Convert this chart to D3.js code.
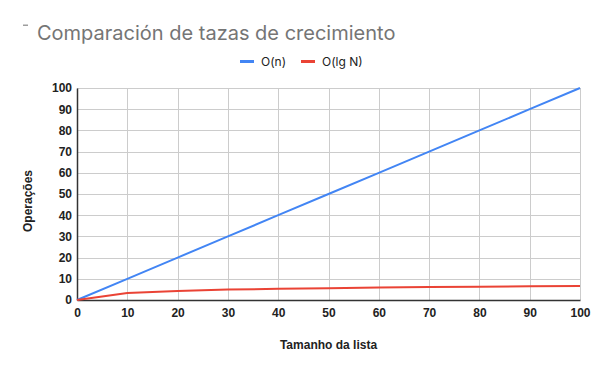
<!DOCTYPE html>
<html>
<head>
    <title>Comparación de tazas de crecimiento</title>
    <style>
        body { margin: 0; background: #fff; }
        svg { display: block; }
    </style>
    <script src="https://d3js.org/d3.v7.min.js"></script>
</head>
<body>
    <div id="chart"></div>

    <script>
// tamanho da lista
var sizes = [0, 10, 20, 30, 40, 50, 60, 70, 80, 90, 100];
// O(n)
var linearOps = [0, 10, 20, 30, 40, 50, 60, 70, 80, 90, 100];
// O(lg N)
var logOps = [0, 3.3, 4.3, 4.9, 5.3, 5.6, 5.9, 6.1, 6.3, 6.5, 6.6];
var xTicks = [0, 10, 20, 30, 40, 50, 60, 70, 80, 90, 100];
var yTicks = [0, 10, 20, 30, 40, 50, 60, 70, 80, 90, 100];

var seriesNames = ['O(n)', 'O(lg N)'];
var seriesColors = ['#4285f4', '#ea4335'];

var width = 600, height = 371;
var margin = { top: 88, right: 20, bottom: 71, left: 77 };
var plotW = width - margin.left - margin.right;
var plotH = height - margin.top - margin.bottom;

var svg = d3.select('#chart').append('svg')
    .attr('width', width)
    .attr('height', height);

// title is cut off at the top in the original
svg.append('clipPath').attr('id', 'titleClip')
    .append('rect').attr('x', 0).attr('y', 24.5).attr('width', width).attr('height', 40);

var titleG = svg.append('g').attr('clip-path', 'url(#titleClip)');
titleG.append('text')
    .attr('x', 37)
    .attr('y', 40)
    .attr('font-family', 'Inter, sans-serif')
    .attr('font-size', 20)
    .attr('fill', '#757575')
    .text('Comparación de tazas de crecimiento');
titleG.append('rect')
    .attr('x', 23).attr('y', 24).attr('width', 5).attr('height', 2)
    .attr('fill', '#9e9e9e');

// legend
var legendItems = [
    { name: seriesNames[0], color: seriesColors[0], x: 240 },
    { name: seriesNames[1], color: seriesColors[1], x: 301 }
];
var legend = svg.append('g');
legend.selectAll('rect')
    .data(legendItems)
    .enter()
    .append('rect')
    .attr('x', function(d) { return d.x; })
    .attr('y', 60)
    .attr('width', 14)
    .attr('height', 3)
    .attr('fill', function(d) { return d.color; });
legend.selectAll('text')
    .data(legendItems)
    .enter()
    .append('text')
    .attr('x', function(d) { return d.x + 21; })
    .attr('y', 65.5)
    .attr('font-family', 'Inter, sans-serif')
    .attr('font-size', 12)
    .attr('fill', '#222')
    .text(function(d) { return d.name; });

var g = svg.append('g')
    .attr('transform', 'translate(' + margin.left + ',' + margin.top + ')');

var xScale = d3.scaleLinear().domain([0, 100]).range([0, plotW]);
var yScale = d3.scaleLinear().domain([0, 100]).range([plotH, 0]);

// gridlines
g.append('g')
    .selectAll('line')
    .data(yTicks)
    .enter()
    .append('line')
    .attr('x1', 0).attr('x2', plotW)
    .attr('y1', function(d) { return Math.round(yScale(d)) + 0.5; })
    .attr('y2', function(d) { return Math.round(yScale(d)) + 0.5; })
    .attr('stroke', '#cccccc');
g.append('g')
    .selectAll('line')
    .data(xTicks)
    .enter()
    .append('line')
    .attr('y1', 0).attr('y2', plotH)
    .attr('x1', function(d) { return Math.round(xScale(d)) + 0.5; })
    .attr('x2', function(d) { return Math.round(xScale(d)) + 0.5; })
    .attr('stroke', '#cccccc');

var xAxis = d3.axisBottom(xScale).tickValues(xTicks).tickSize(0).tickPadding(8);
var yAxis = d3.axisLeft(yScale).tickValues(yTicks).tickSize(0).tickPadding(5);

var xg = g.append('g')
    .attr('transform', 'translate(0,' + plotH + ')')
    .call(xAxis);
var yg = g.append('g').call(yAxis);

[xg, yg].forEach(function(a) {
    a.select('.domain').attr('stroke', '#333').attr('stroke-width', 1.5);
    a.selectAll('text')
        .attr('font-family', 'Liberation Sans, Arial, sans-serif')
        .attr('font-size', 12)
        .attr('font-weight', 'bold')
        .attr('fill', '#222');
});

// series lines
var series = [
    { values: linearOps, color: seriesColors[0] },
    { values: logOps, color: seriesColors[1] }
];
var line = d3.line()
    .x(function(d, i) { return xScale(sizes[i]); })
    .y(function(d) { return yScale(d); });

g.selectAll('.series')
    .data(series)
    .enter()
    .append('path')
    .attr('class', 'series')
    .attr('d', function(d) { return line(d.values); })
    .attr('fill', 'none')
    .attr('stroke', function(d) { return d.color; })
    .attr('stroke-width', 2);

// axis titles
svg.append('text')
    .attr('x', margin.left + plotW / 2)
    .attr('y', 349)
    .attr('text-anchor', 'middle')
    .attr('font-family', 'Liberation Sans, Arial, sans-serif')
    .attr('font-size', 12)
    .attr('font-weight', 'bold')
    .attr('fill', '#222')
    .text('Tamanho da lista');

svg.append('text')
    .attr('transform', 'rotate(-90)')
    .attr('x', -201)
    .attr('y', 32)
    .attr('text-anchor', 'middle')
    .attr('font-family', 'Liberation Sans, Arial, sans-serif')
    .attr('font-size', 12)
    .attr('font-weight', 'bold')
    .attr('fill', '#222')
    .text('Operações');
    </script>
</body>
</html>
